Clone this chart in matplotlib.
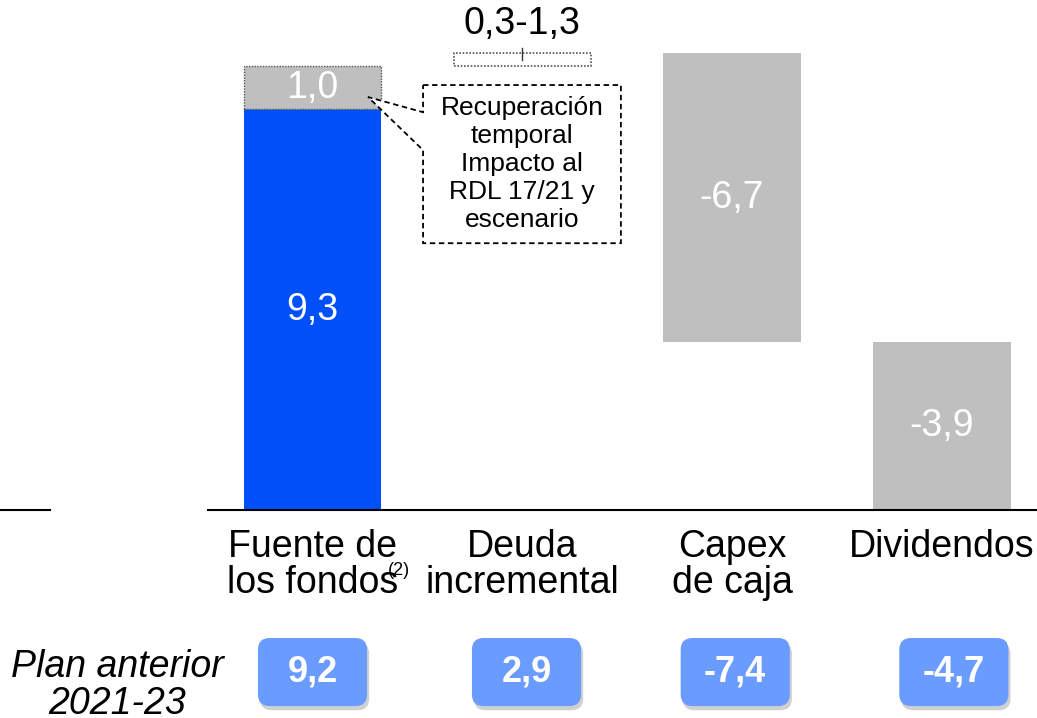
import matplotlib
matplotlib.use('Agg')
import matplotlib.pyplot as plt
from matplotlib.patches import FancyBboxPatch, Polygon
from matplotlib import patheffects

plt.rcParams['font.family'] = ['Liberation Sans', 'DejaVu Sans']

# data
categories = ['Fuente de\nlos fondos', 'Deuda\nincremental', 'Capex\nde caja', 'Dividendos']
fuente = 9.3
recuperacion = 1.0
deuda_low = 0.3
deuda_high = 1.3
capex = -6.7
dividendos = -3.9
plan_anterior = [9.2, 2.9, -7.4, -4.7]

BLUE = '#0050FA'
GREY = '#BFBFBF'
BOX = '#6A9BFF'

def fmt(v):
    return ('%.1f' % v).replace('.', ',')

fig = plt.figure(figsize=(10.37, 7.18), dpi=100)
ax = fig.add_axes([0, 0, 1, 1])
ax.set_xlim(-1.4895, 3.4533)
ax.set_ylim(-4.826, 11.833)
ax.set_axis_off()

w = 0.655
x = [0, 1, 2, 3]

# fuente de los fondos: blue + grey recovery block
ax.bar(x[0], fuente, width=w, color=BLUE)
ax.bar(x[0], recuperacion, bottom=fuente, width=w, color=GREY,
       edgecolor='#555555', linestyle=(0, (1, 1)), linewidth=1)
ax.text(x[0], fuente / 2, fmt(fuente), color='white', fontsize=27, ha='center', va='center')
ax.text(x[0], fuente + recuperacion / 2, fmt(recuperacion), color='white', fontsize=27,
        ha='center', va='center')

# deuda incremental: dotted range box
top1 = fuente + recuperacion
ax.bar(x[1], deuda_low, bottom=top1, width=w, color='white',
       edgecolor='#555555', linestyle=(0, (1, 1)), linewidth=1.2)
ax.plot([x[1], x[1]], [top1 + deuda_low / 2, top1 + deuda_low + 0.12], color='#333333', lw=1)
ax.text(x[1], 11.28, fmt(deuda_low) + '-' + fmt(deuda_high), fontsize=27,
        ha='center', va='center')

# capex and dividendos
top2 = top1 + deuda_low
ax.bar(x[2], -capex, bottom=top2 + capex, width=w, color=GREY)
ax.text(x[2], top2 + capex / 2, fmt(capex), color='white', fontsize=27, ha='center', va='center')
top3 = top2 + capex
ax.bar(x[3], -dividendos, bottom=top3 + dividendos, width=w, color=GREY)
ax.text(x[3], top3 + dividendos / 2, fmt(dividendos), color='white', fontsize=27,
        ha='center', va='center')

# baseline + stray line left
ax.plot([-0.498, 3.4533], [0, 0], color='black', lw=1.5)
ax.plot([-1.4895, -1.25], [0, 0], color='black', lw=1.5)

# callout box
call = Polygon([(0.527, 9.86), (1.470, 9.86), (1.470, 6.19), (0.527, 6.19),
                (0.527, 8.35), (0.265, 9.58), (0.527, 9.23)], closed=True,
               facecolor='white', edgecolor='black', linestyle=(0, (3, 2)), linewidth=1.3)
ax.add_patch(call)
ax.text(1.0, 8.03, 'Recuperación\ntemporal\nImpacto al\nRDL 17/21 y\nescenario',
        fontsize=19, ha='center', va='center')

# category labels
for i, (xi, lab) in enumerate(zip(x, categories)):
    yc = -1.28 if '\n' in lab else -0.86
    ax.text(xi, yc, lab, fontsize=27, ha='center', va='center', linespacing=0.98)
ax.text(0.412, -1.40, '(2)', fontsize=13, ha='center', va='center')

# previous plan
ax.text(-0.932, -4.08, 'Plan anterior\n2021-23', fontsize=27, style='italic',
        ha='center', va='center', linespacing=1.03)
box_dx = [0.0, 0.02, 0.015, 0.057]
bw, bh = 0.52, 1.58
for xi, dx, v in zip(x, box_dx, plan_anterior):
    cx = xi + dx
    p = FancyBboxPatch((cx - bw / 2, -3.76 - bh / 2), bw, bh,
                       boxstyle='round,pad=0,rounding_size=0.055',
                       mutation_aspect=209.8 / 43.1, facecolor=BOX, edgecolor='none',
                       path_effects=[patheffects.withSimplePatchShadow(
                           offset=(1.5, -3), shadow_rgbFace='#666666', alpha=0.3)])
    ax.add_patch(p)
    ax.text(cx, -3.76, fmt(v), fontsize=26, fontweight='bold', color='white',
            ha='center', va='center')

fig.savefig('out.png', dpi=100)
